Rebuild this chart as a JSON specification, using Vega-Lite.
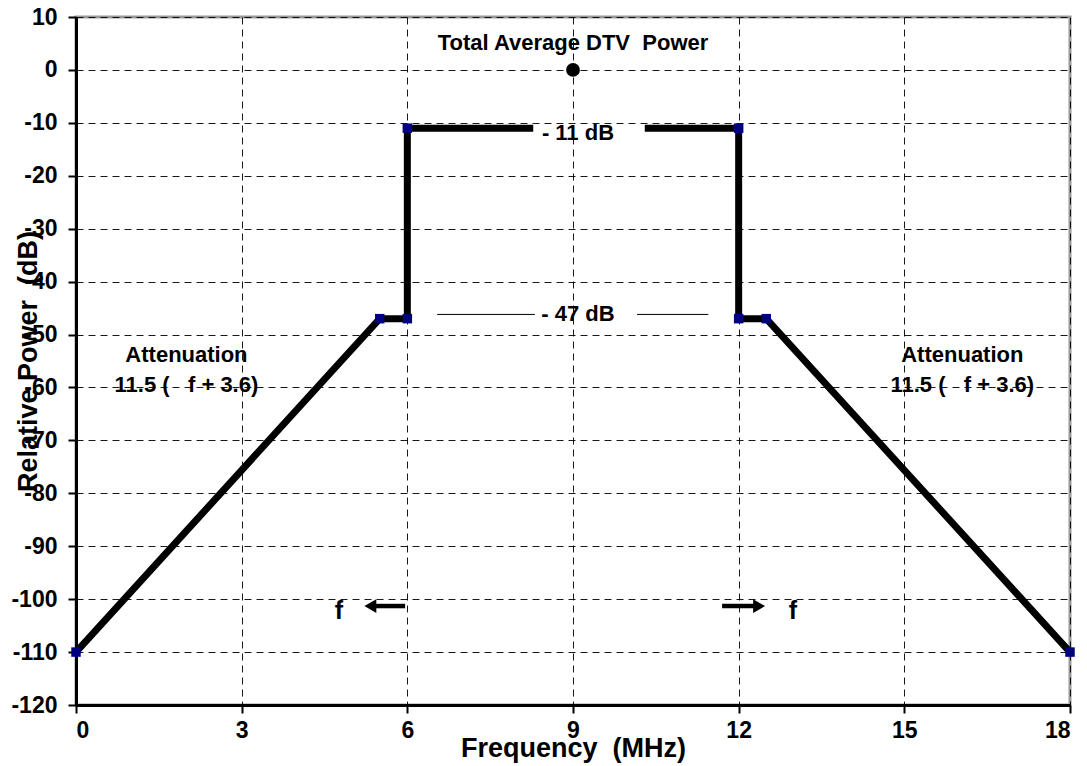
{
  "$schema": "https://vega.github.io/schema/vega-lite/v6.json",
  "width": 994,
  "height": 688,
  "autosize": {"type": "none"},
  "padding": {"left": 76, "top": 17, "right": 17, "bottom": 61},
  "background": "white",
  "config": {
    "view": {"stroke": "#999999", "strokeWidth": 3},
    "font": "Liberation Sans",
    "style": {"guide-label": {"fontSize": 23, "fontWeight": "bold", "font": "Liberation Sans", "fill": "black"}},
    "axis": {
      "labelFont": "Liberation Sans", "labelFontWeight": "bold", "labelFontSize": 23, "labelColor": "black",
      "titleFont": "Liberation Sans", "titleFontWeight": "bold", "titleFontSize": 27, "titleColor": "black",
      "domainColor": "black", "domainWidth": 3, "tickColor": "black", "tickWidth": 2, "tickSize": 8,
      "gridColor": "black", "gridDash": [7, 5], "gridWidth": 1, "gridOpacity": 0.9
    }
  },
  "datasets": {
    "main": [
      {"f": 0, "p": -110, "seg": "L", "o": 1},
      {"f": 5.5, "p": -47, "seg": "L", "o": 2},
      {"f": 6, "p": -47, "seg": "L", "o": 3},
      {"f": 6, "p": -11, "seg": "L", "o": 4},
      {"f": 8.28, "p": -11, "seg": "L", "o": 5},
      {"f": 10.3, "p": -11, "seg": "R", "o": 6},
      {"f": 12, "p": -11, "seg": "R", "o": 7},
      {"f": 12, "p": -47, "seg": "R", "o": 8},
      {"f": 12.5, "p": -47, "seg": "R", "o": 9},
      {"f": 18, "p": -110, "seg": "R", "o": 10}
    ],
    "pts": [
      {"f": 0, "p": -110}, {"f": 5.5, "p": -47}, {"f": 6, "p": -47}, {"f": 6, "p": -11},
      {"f": 12, "p": -11}, {"f": 12, "p": -47}, {"f": 12.5, "p": -47}, {"f": 18, "p": -110}
    ],
    "thin": [
      {"f": 6.54, "p": -46.2, "seg": "a"}, {"f": 8.31, "p": -46.2, "seg": "a"},
      {"f": 10.16, "p": -46.2, "seg": "b"}, {"f": 11.45, "p": -46.2, "seg": "b"}
    ],
    "arrows": [
      {"f": 5.96, "p": -101.3, "seg": "a"}, {"f": 5.4, "p": -101.3, "seg": "a"},
      {"f": 11.7, "p": -101.3, "seg": "b"}, {"f": 12.3, "p": -101.3, "seg": "b"}
    ],
    "heads": [
      {"f": 5.33, "p": -101.3, "dir": "triangle-left"},
      {"f": 12.37, "p": -101.3, "dir": "triangle-right"}
    ],
    "labels": [
      {"f": 9, "p": 5.1, "t": "Total Average DTV\u00a0 Power", "s": 22},
      {"f": 9.09, "p": -11.9, "t": "- 11 dB", "s": 22},
      {"f": 9.09, "p": -46.2, "t": "- 47 dB", "s": 22},
      {"f": 2.0, "p": -53.9, "t": "Attenuation", "s": 22},
      {"f": 2.0, "p": -59.5, "t": "11.5 (\u00a0\u00a0 f + 3.6)", "s": 22},
      {"f": 16.05, "p": -53.9, "t": "Attenuation", "s": 22},
      {"f": 16.05, "p": -59.5, "t": "11.5 (\u00a0\u00a0 f + 3.6)", "s": 22},
      {"f": 4.76, "p": -102.2, "t": "f", "s": 25},
      {"f": 12.98, "p": -102.2, "t": "f", "s": 25}
    ]
  },
  "encoding": {
    "x": {
      "field": "f", "type": "quantitative",
      "scale": {"domain": [0, 18], "nice": false, "zero": false},
      "axis": {
        "values": [0, 3, 6, 9, 12, 15, 18], "title": "Frequency\u00a0 (MHz)",
        "labelFontSize": 23, "labelFontWeight": "bold", "labelColor": "black",
        "labelPadding": 6, "titleX": 497, "titleY": 43, "titleBaseline": "middle", "titleAnchor": null
      }
    },
    "y": {
      "field": "p", "type": "quantitative",
      "scale": {"domain": [-120, 10], "nice": false, "zero": false},
      "axis": {
        "values": [-120, -110, -100, -90, -80, -70, -60, -50, -40, -30, -20, -10, 0, 10],
        "labelExpr": "'' + datum.value",
        "labelFontSize": 23, "labelFontWeight": "bold", "labelColor": "black",
        "title": "Relative Power\u00a0 (dB)", "labelPadding": 11,
        "titleX": -48, "titleY": 344, "titleAngle": -90, "titleBaseline": "middle", "titleAlign": "center"
      }
    }
  },
  "layer": [
    {
      "data": {"name": "thin"},
      "mark": {"type": "line", "color": "black", "strokeWidth": 1},
      "encoding": {"detail": {"field": "seg"}}
    },
    {
      "data": {"name": "main"},
      "mark": {"type": "line", "color": "black", "strokeWidth": 7, "strokeJoin": "miter"},
      "encoding": {"detail": {"field": "seg"}, "order": {"field": "o"}}
    },
    {
      "data": {"name": "arrows"},
      "mark": {"type": "line", "color": "black", "strokeWidth": 4.5},
      "encoding": {"detail": {"field": "seg"}}
    },
    {
      "data": {"name": "heads"},
      "mark": {"type": "point", "filled": true, "color": "black", "opacity": 1, "size": 190},
      "encoding": {"shape": {"field": "dir", "type": "nominal", "scale": null, "legend": null}}
    },
    {
      "data": {"name": "pts"},
      "mark": {"type": "square", "color": "#000080", "opacity": 1, "size": 90}
    },
    {
      "data": {"values": [{"f": 9, "p": 0}]},
      "mark": {"type": "circle", "color": "black", "opacity": 1, "size": 190}
    },
    {
      "data": {"name": "labels"},
      "mark": {"type": "text", "fontWeight": "bold", "color": "black", "font": "Liberation Sans"},
      "encoding": {
        "text": {"field": "t"},
        "size": {"field": "s", "type": "quantitative", "scale": null}
      }
    }
  ]
}
